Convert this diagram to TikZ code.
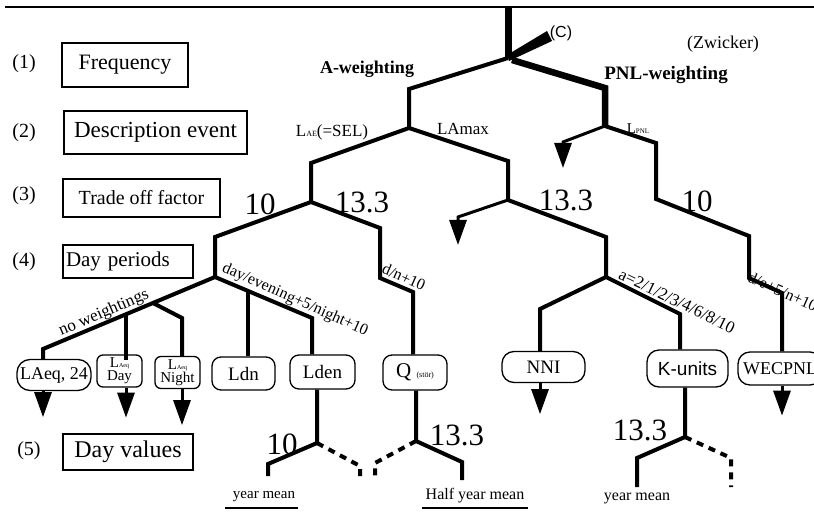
\documentclass[tikz,border=0pt]{standalone}
\usepackage{fontspec}
\setmainfont{Liberation Serif}
\newfontfamily\sansf{Liberation Sans}
\usetikzlibrary{arrows.meta}
\newcommand\fsz[1]{\fontsize{#1}{#1}\selectfont}
\begin{document}
\begin{tikzpicture}[x=1pt,y=-1pt,
  lbox/.style={draw, line width=1.3pt, inner sep=0pt},
  rbox/.style={draw, line width=1.3pt, rounded corners=9pt, inner sep=0pt},
  tree/.style={line width=4pt, line join=miter},
  dtree/.style={line width=4pt, dash pattern=on 7pt off 6pt},
  arr/.style={line width=3pt, -{Triangle[length=25pt,width=17pt]}},
  num/.style={font=\fsz{31}, inner sep=0pt},
  rl/.style={inner sep=1pt},
  uline/.style={line width=2.5pt}
]
\clip (0,0) rectangle (814,513);
\fill[white] (0,0) rectangle (814,513);
\coordinate (tl) at (5,7);
\coordinate (tr) at (814,7);
\draw[line width=1.8pt] (tl) -- (tr);

% left column
\node[font=\fsz{20}] (k1) at (24,64) {(1)};
\node[font=\fsz{20}] (k2) at (24,133) {(2)};
\node[font=\fsz{20}] (k3) at (24,196) {(3)};
\node[font=\fsz{20}] (k4) at (24,262) {(4)};
\node[font=\fsz{20}] (k5) at (29,451) {(5)};
\node[lbox, minimum width=126pt, minimum height=44pt, font=\fsz{22}] (b1) at (125,65) {Frequency};
\node[lbox, minimum width=183pt, minimum height=43pt, font=\fsz{23}] (b2) at (155.5,132.5) {Description event};
\node[lbox, minimum width=157pt, minimum height=38pt, font=\fsz{20}] (b3) at (141.5,198) {Trade off factor};
\node[lbox, minimum width=130pt, minimum height=33pt, font=\fsz{21}, text width=124pt, align=left] (b4) at (128,261.5) {Day periods};
\node[lbox, minimum width=130pt, minimum height=36pt, font=\fsz{24}] (b5) at (128,452) {Day values};

% tree coordinates
\coordinate (r0) at (508,8);
\coordinate (r) at (508,58);
\coordinate (r2) at (512,60);
\coordinate (a1) at (409,89);
\coordinate (a) at (409,128);
\coordinate (p1) at (605,88);
\coordinate (p) at (605,126);
\coordinate (s1) at (311,163);
\coordinate (s) at (311,202);
\coordinate (m1) at (508,161);
\coordinate (m) at (508,200);
\coordinate (ma) at (458,217);
\coordinate (ma2) at (458,245);
\coordinate (pa) at (563,142);
\coordinate (pa2) at (563,168);
\coordinate (q1) at (656,143);
\coordinate (q2) at (656,199);
\coordinate (q3) at (749,236);
\coordinate (q4) at (749,278);
\coordinate (q5) at (782,293);
\coordinate (t1) at (215,237);
\coordinate (t) at (215,277);
\coordinate (u1) at (380,228);
\coordinate (u) at (380,278);
\coordinate (u2) at (413,292);
\coordinate (v1) at (606,237);
\coordinate (v) at (606,277);
\coordinate (v2) at (540,309);
\coordinate (v3) at (680,314);
\coordinate (w1) at (43,349);
\coordinate (w2) at (126,314.3);
\coordinate (w3) at (153,303);
\coordinate (w4) at (182,318);
\coordinate (e1) at (248,291);
\coordinate (e2) at (312,318);

% boxes row
\node[rbox, minimum width=74pt, minimum height=31pt, rounded corners=13pt, font=\fsz{18}] (laeq) at (54,375) {LAeq, 24};
\node[rbox, minimum width=45pt, minimum height=32pt, rounded corners=6pt, font=\fontsize{15}{13}\selectfont, align=center] (lday) at (119.5,371) {L{\fsz{6}Aeq}\\Day};
\node[rbox, minimum width=45pt, minimum height=32pt, rounded corners=6pt, font=\fontsize{15}{13}\selectfont, align=center] (lnight) at (177.5,372.5) {L{\fsz{6}Aeq}\\Night};
\node[rbox, minimum width=63pt, minimum height=33pt, font=\fsz{19}] (ldn) at (243.5,373.5) {Ldn};
\node[rbox, minimum width=65pt, minimum height=34pt, font=\fsz{19}] (lden) at (322.5,372) {Lden};
\node[rbox, minimum width=64pt, minimum height=35pt, font=\fsz{21}] (qst) at (415,372.5) {Q {\fsz{8}(stör)}};
\node[rbox, minimum width=83pt, minimum height=31pt, rounded corners=12pt, font=\fsz{19}] (nni) at (543.5,367) {NNI};
\node[rbox, minimum width=81pt, minimum height=37pt, rounded corners=12pt, font=\sansf\fsz{19}] (kun) at (687.5,368.5) {K-units};
\node[rbox, minimum width=84pt, minimum height=33pt, rounded corners=12pt, font=\fsz{18}] (wec) at (780,368.5) {WECPNL};

% tree lines
\draw[line width=7pt] (r0) -- (r);
\fill (507,55) -- (509,61) -- (552,41) -- (547,31) -- cycle;
\draw[tree] (r) -- (a1) -- (a);
\draw[line width=6.5pt, line join=miter] (r2) -- (p1) -- (p);
\draw[tree] (a) -- (s1) -- (s);
\draw[tree] (a) -- (m1) -- (m);
\draw[arr] (m) -- (ma) -- (ma2);
\draw[arr] (p) -- (pa) -- (pa2);
\draw[tree] (p) -- (q1) -- (q2) -- (q3) -- (q4) -- (q5) -- (q5 |- wec.north);
\draw[tree] (s) -- (t1) -- (t);
\draw[tree] (s) -- (u1) -- (u) -- (u2) -- (u2 |- qst.north);
\draw[tree] (m) -- (v1) -- (v);
\draw[tree] (v) -- (v2) -- (v2 |- nni.north);
\draw[tree] (v) -- (v3) -- (v3 |- kun.north);
\draw[tree] (t) -- (w1) -- (w1 |- laeq.north);
\draw[tree] (w2) -- (w2 |- lday.north) -- ++(0,6);
\draw[tree] (w3) -- (w4) -- (w4 |- lnight.north);
\draw[tree] (t) -- (e2) -- (e2 |- lden.north);
\draw[tree] (e1) -- (e1 |- ldn.north);

% arrows below boxes
\draw[arr] (w1 |- laeq.south) -- ++(0,26);
\draw[arr] (w2 |- lday.south) -- ++(0,30);
\draw[arr] (w4 |- lnight.south) -- ++(0,36);
\draw[arr] (v2 |- nni.south) -- ++(0,31);
\draw[arr] (q5 |- wec.south) -- ++(0,30);

% day values
\coordinate (dl) at (317,443);
\coordinate (dl1) at (268,464);
\coordinate (dl2) at (268,476);
\coordinate (dr1) at (360,466);
\coordinate (dr2) at (360,478);
\draw[tree] (dl |- lden.south) -- (dl) -- (dl1) -- (dl2);
\draw[dtree] (dl) -- (dr1) -- (dr2);
\coordinate (dq) at (416,441);
\coordinate (dq1) at (462,462);
\coordinate (dq2) at (462,480);
\coordinate (dqa) at (375,463);
\coordinate (dqb) at (375,478);
\draw[tree] (dq |- qst.south) -- (dq) -- (dq1) -- (dq2);
\draw[dtree] (dq) -- (dqa) -- (dqb);
\coordinate (dk) at (685,437);
\coordinate (dk1) at (637,458);
\coordinate (dk2) at (637,487);
\coordinate (dka) at (731,458);
\coordinate (dkb) at (731,487);
\draw[tree] (dk |- kun.south) -- (dk) -- (dk1) -- (dk2);
\draw[dtree] (dk) -- (dka) -- (dkb);

% labels
\node[font=\bfseries\fsz{18}] (aw) at (367,69) {A-weighting};
\node[font=\bfseries\fsz{19}] (pw) at (666,75) {PNL-weighting};
\node[font=\fsz{18}] (zw) at (723,44) {(Zwicker)};
\node[font=\sansf\fsz{16}] (cl) at (561,33) {(C)};
\node[font=\fsz{17}] (sel) at (332,132) {L{\fsz{8}AE}(=SEL)};
\node[font=\fsz{17}] (lam) at (463,129) {LAmax};
\node[font=\fsz{15}] (lpnl) at (638,129) {L{\fsz{7}PNL}};

\node[num] (n10a) at (260,204) {10};
\node[num] (n13a) at (362,202) {13.3};
\node[num] (n13b) at (566,200) {13.3};
\node[num] (n10b) at (697,201) {10};
\node[num] (n10c) at (282,444) {10};
\node[num] (n13c) at (457,435) {13.3};
\node[num] (n13d) at (640,430) {13.3};

\node[rl, font=\fsz{17}, rotate=23] (nw) at (104,313) {no weightings};
\node[rl, font=\fsz{16}, rotate=-24] (dev) at (295,300) {day/evening+5/night+10};
\node[rl, font=\fsz{16}, rotate=-24] (dn) at (404,277) {d/n+10};
\node[rl, font=\fsz{17}, rotate=-26] (aeq) at (677,301) {a=2/1/2/3/4/6/8/10};
\node[rl, font=\fsz{16}, rotate=-24, anchor=west] (den) at (748,276) {d/e+5/n+10};

\node[font=\fsz{15}] (ym1) at (264,497) {year mean};
\node[font=\fsz{16}] (hym) at (475,496) {Half year mean};
\node[font=\fsz{16}] (ym2) at (637,498) {year mean};
\coordinate (ul1a) at (225,508);
\coordinate (ul1b) at (298,508);
\coordinate (ul2a) at (422,508);
\coordinate (ul2b) at (528,508);
\draw[uline] (ul1a) -- (ul1b);
\draw[uline] (ul2a) -- (ul2b);
\end{tikzpicture}
\end{document}
